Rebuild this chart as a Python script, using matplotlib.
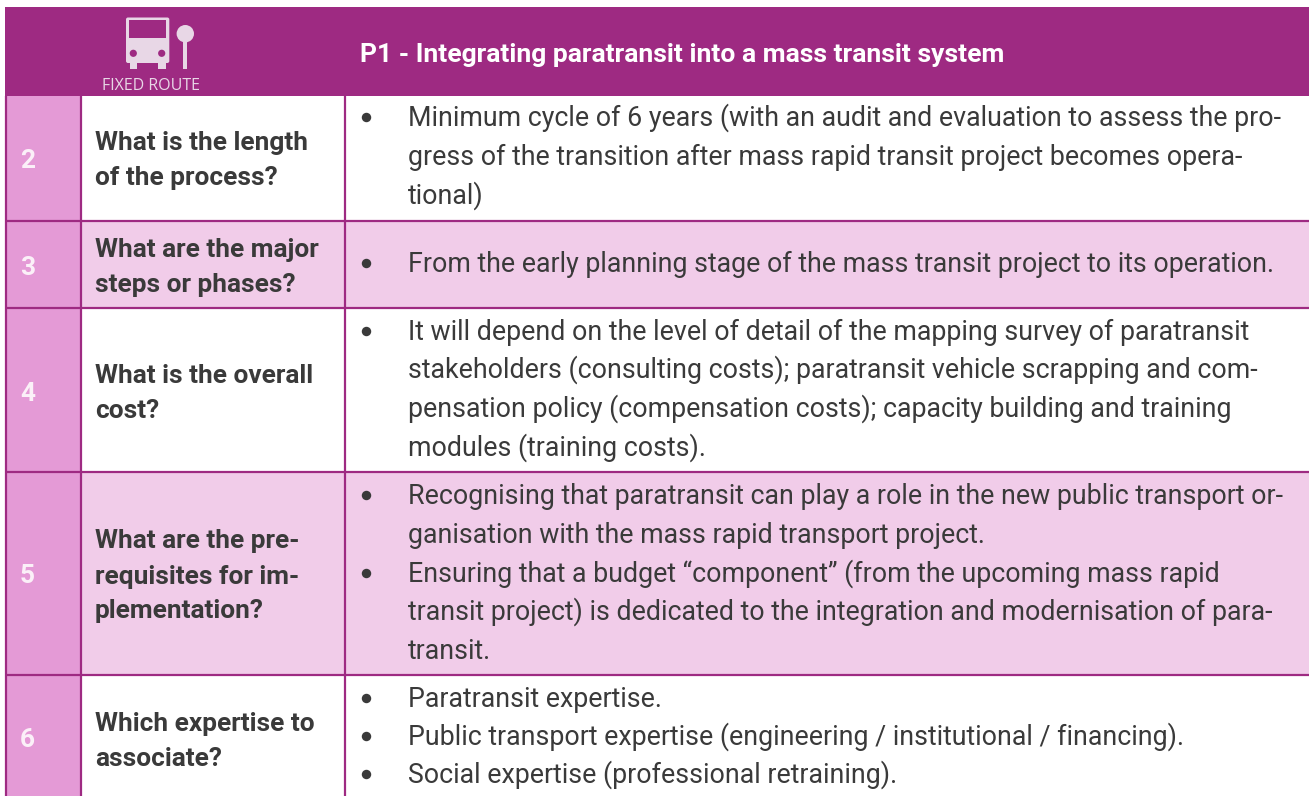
import matplotlib
matplotlib.use("Agg")
import matplotlib.pyplot as plt
from matplotlib.patches import Rectangle, Circle, FancyBboxPatch

TITLE = "P1 - Integrating paratransit into a mass transit system"
ICON_LABEL = "FIXED ROUTE"
numbers = ["2", "3", "4", "5", "6"]
questions = [
    ["What is the length", "of the process?"],
    ["What are the major", "steps or phases?"],
    ["What is the overall", "cost?"],
    ["What are the pre-", "requisites for im-", "plementation?"],
    ["Which expertise to", "associate?"],
]
answers = [
    [(True, "Minimum cycle of 6 years (with an audit and evaluation to assess the pro-"),
     (False, "gress of the transition after mass rapid transit project becomes opera-"),
     (False, "tional)")],
    [(True, "From the early planning stage of the mass transit project to its operation.")],
    [(True, "It will depend on the level of detail of the mapping survey of paratransit"),
     (False, "stakeholders (consulting costs); paratransit vehicle scrapping and com-"),
     (False, "pensation policy (compensation costs); capacity building and training"),
     (False, "modules (training costs).")],
    [(True, "Recognising that paratransit can play a role in the new public transport or-"),
     (False, "ganisation with the mass rapid transport project."),
     (True, "Ensuring that a budget “component” (from the upcoming mass rapid"),
     (False, "transit project) is dedicated to the integration and modernisation of para-"),
     (False, "transit.")],
    [(True, "Paratransit expertise."),
     (True, "Public transport expertise (engineering / institutional / financing)."),
     (True, "Social expertise (professional retraining).")],
]
row_edges = [96, 220.5, 308, 472, 675, 796]
number_base = [168, 275, 401, 583, 747]
question_base = [[150, 185.5], [256.7, 292.3], [382.7, 417.7], [548, 583.7, 618], [730.7, 766]]
answer_base = [[126, 165, 204], [272.3], [340, 378, 417, 455.7],
               [504, 543, 581.7, 620, 659], [706.7, 745, 783]]

PURPLE = "#9E2A82"
NUM_BG = "#E49AD6"
ROW_BG = "#F1CCE9"
TEXT = "#3A3A3A"
ICON = "#E8D7E6"
X0, X1, X2, X3 = 6, 81, 345, 1309
BODY, BOLD, TITLE_SIZE = 19.25, 18.95, 19.05

plt.rcParams["font.family"] = ["Roboto", "DejaVu Sans"]
fig = plt.figure(figsize=(13.09, 7.96), dpi=100)
ax = fig.add_axes([0, 0, 1, 1])
ax.set_xlim(0, 1309)
ax.set_ylim(796, 0)
ax.axis("off")

ax.add_patch(Rectangle((5, 7), X3 - 5, 89, fc=PURPLE, ec="none"))
for i, (top, bottom) in enumerate(zip(row_edges[:-1], row_edges[1:])):
    ax.add_patch(Rectangle((X0, top), X1 - X0, bottom - top, fc=NUM_BG, ec="none"))
    if i % 2 == 1:
        ax.add_patch(Rectangle((X1, top), X3 - X1, bottom - top, fc=ROW_BG, ec="none"))
    ax.text(27.5, number_base[i], numbers[i], color="#FBF0F8", fontsize=BOLD,
            fontweight="bold", ha="center", va="baseline")
    for y, line in zip(question_base[i], questions[i]):
        ax.text(95, y, line, color=TEXT, fontsize=BOLD, fontweight="bold", ha="left", va="baseline")
    for y, (bullet, line) in zip(answer_base[i], answers[i]):
        if bullet:
            ax.plot([365.7], [y - 9], "o", color=TEXT, ms=6.8, mew=0)
        ax.text(408, y, line, color=TEXT, fontsize=BODY, ha="left", va="baseline")

for y in row_edges[1:-1]:
    ax.plot([X0 - 1, X3], [y, y], color=PURPLE, lw=1.6, solid_capstyle="butt")
for x in (X0, X1, X2):
    ax.plot([x, x], [96, 796], color=PURPLE, lw=1.6, solid_capstyle="butt")

ax.add_patch(FancyBboxPatch((126, 17.5), 43.3, 45.5, boxstyle="round,pad=0,rounding_size=2", fc=ICON, ec="none"))
ax.add_patch(Rectangle((129, 20), 37, 18.3, fc=PURPLE, ec="none"))
ax.add_patch(Circle((133.3, 53.3), 3.6, fc=PURPLE, ec="none"))
ax.add_patch(Circle((161.7, 53.3), 3.6, fc=PURPLE, ec="none"))
ax.add_patch(Rectangle((130, 62), 7.2, 7, fc=ICON, ec="none"))
ax.add_patch(Rectangle((158.3, 62), 7.4, 7, fc=ICON, ec="none"))
ax.add_patch(Circle((185.3, 33.7), 8.7, fc=ICON, ec="none"))
ax.add_patch(Rectangle((183.3, 40), 4, 29, fc=ICON, ec="none"))
ax.text(151, 90, ICON_LABEL, color=ICON, fontsize=11.55, family=["Open Sans", "DejaVu Sans"],
        ha="center", va="baseline")
ax.text(359.5, 61.7, TITLE, color="white", fontsize=TITLE_SIZE, fontweight="bold", ha="left", va="baseline")

fig.savefig("out.png", dpi=100, facecolor="white")
